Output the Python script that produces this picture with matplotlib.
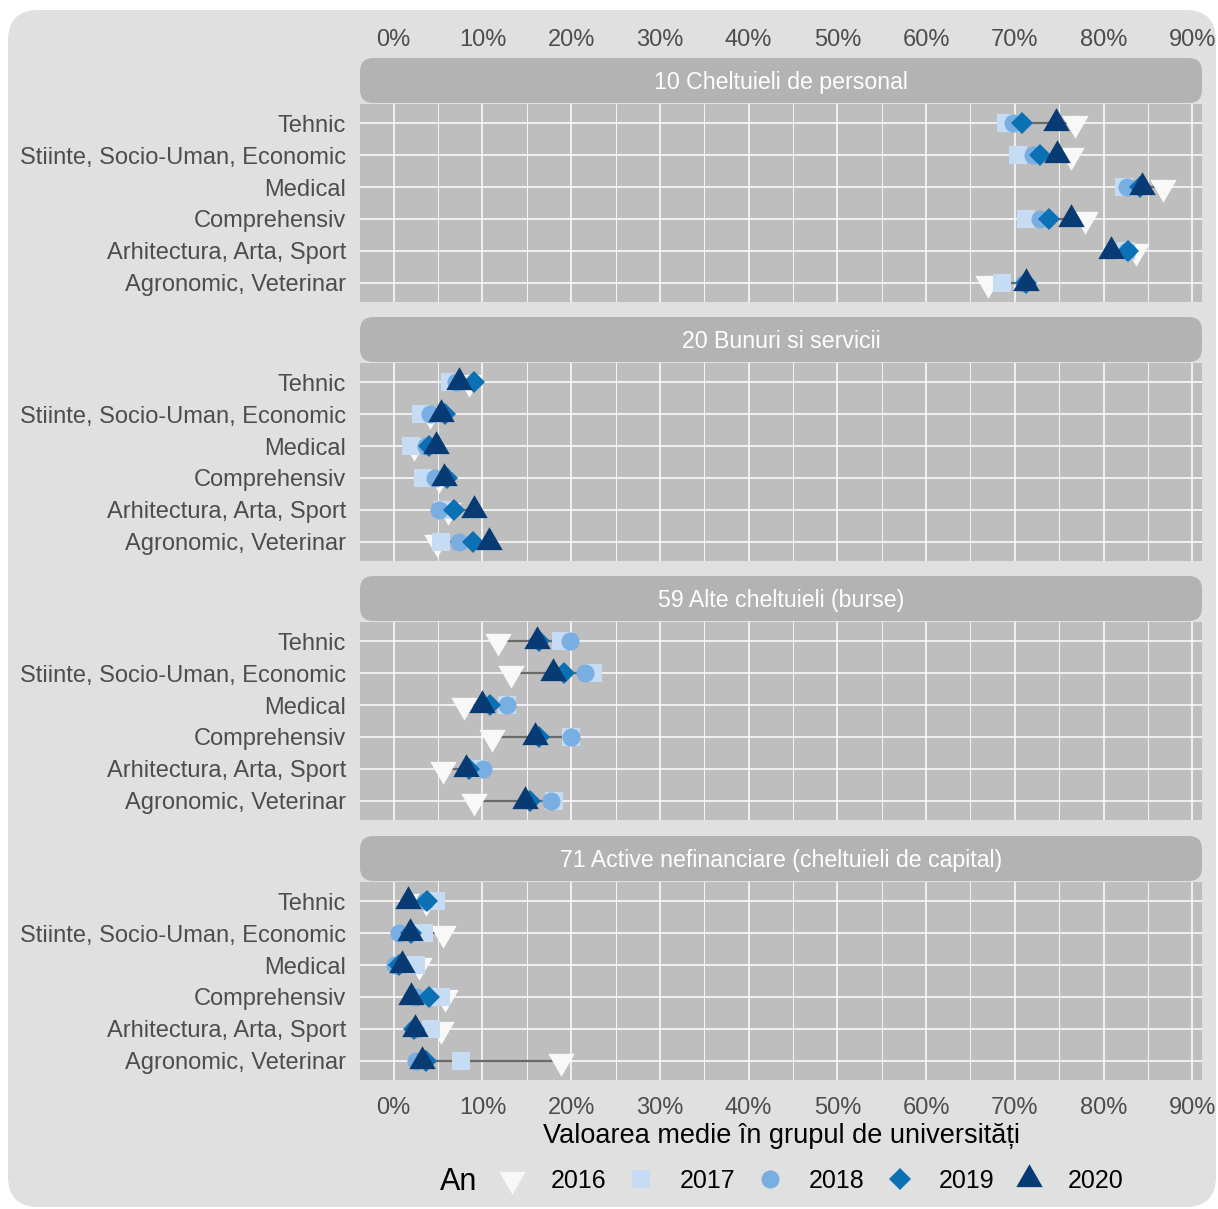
import numpy as np
import matplotlib
matplotlib.use('Agg')
import matplotlib.pyplot as plt
from matplotlib.patches import FancyBboxPatch
from matplotlib.lines import Line2D

plt.rcParams['font.family'] = ['Liberation Sans', 'DejaVu Sans']

# categories listed top to bottom
grupuri = ['Tehnic', 'Stiinte, Socio-Uman, Economic', 'Medical', 'Comprehensiv',
           'Arhitectura, Arta, Sport', 'Agronomic, Veterinar']
capitole = ['10 Cheltuieli de personal', '20 Bunuri si servicii',
            '59 Alte cheltuieli (burse)', '71 Active nefinanciare (cheltuieli de capital)']
ani = ['2016', '2017', '2018', '2019', '2020']

# values in %, one list per year, rows in the order of `grupuri`
cap10 = {
    '2016': [76.8, 76.3, 86.7, 77.9, 83.7, 67.0],
    '2017': [69.0, 70.4, 82.3, 71.3, 82.5, 68.6],
    '2018': [69.8, 72.0, 82.6, 72.8, 82.6, 71.0],
    '2019': [70.8, 72.8, 84.1, 73.9, 82.8, 71.3],
    '2020': [74.6, 74.8, 84.3, 76.3, 80.8, 71.3],
}
cap20 = {
    '2016': [8.5, 4.1, 2.3, 5.1, 6.1, 4.9],
    '2017': [6.4, 3.1, 1.9, 3.3, 5.5, 5.3],
    '2018': [7.0, 4.1, 3.6, 4.6, 5.1, 7.4],
    '2019': [9.0, 5.8, 4.0, 6.0, 6.8, 8.9],
    '2020': [7.4, 5.3, 4.8, 5.7, 9.1, 10.7],
}
cap59 = {
    '2016': [11.8, 13.2, 7.9, 11.1, 5.5, 9.0],
    '2017': [18.8, 22.5, 12.8, 20.0, 9.5, 18.1],
    '2018': [19.9, 21.6, 12.8, 20.0, 10.1, 17.7],
    '2019': [16.4, 19.2, 10.9, 16.4, 8.5, 15.4],
    '2020': [16.2, 17.9, 10.0, 15.9, 8.1, 14.8],
}
cap71 = {
    '2016': [3.6, 5.5, 2.9, 5.8, 5.3, 18.9],
    '2017': [4.8, 3.4, 2.5, 5.3, 4.2, 7.6],
    '2018': [3.5, 0.6, 0.1, 2.5, 2.3, 2.5],
    '2019': [3.8, 1.9, 0.6, 4.0, 2.3, 3.6],
    '2020': [1.6, 1.8, 0.9, 1.9, 2.4, 3.2],
}
date = [cap10, cap20, cap59, cap71]

culori = {'2016': '#f8f8f8', '2017': '#c6dcf4', '2018': '#78aee2',
          '2019': '#0b70b4', '2020': '#083b74'}
tri_sus = [(0, 1), (-0.866, -0.5), (0.866, -0.5), (0, 1)]
tri_jos = [(0, -1), (-0.866, 0.5), (0.866, 0.5), (0, -1)]
markere = {'2016': tri_jos, '2017': 's', '2018': 'o', '2019': 'D', '2020': tri_sus}
marimi = {'2016': 22, '2017': 12.5, '2018': 13, '2019': 11, '2020': 22}

W, H = 1218, 1209
fig = plt.figure(figsize=(W / 100, H / 100), dpi=100)
fig.patch.set_facecolor('white')

def fx(px):
    return px / W

def fy(py):
    return 1 - py / H

fundal = FancyBboxPatch((fx(8), fy(1207)), fx(1216) - fx(8), fy(10) - fy(1207),
                        boxstyle='round,pad=0,rounding_size=0.025',
                        transform=fig.transFigure, facecolor='#e0e0e0',
                        edgecolor='none', zorder=-10)
fig.patches.append(fundal)

x_st, x_dr = 360, 1202
panou_sus = [104, 363, 622, 882]
h_panou = 198
h_strip = 45
y_pos = np.arange(len(grupuri))[::-1] + 1

for i, (cap, val) in enumerate(zip(capitole, date)):
    top = panou_sus[i]
    ax = fig.add_axes([fx(x_st), fy(top + h_panou), fx(x_dr) - fx(x_st), h_panou / H])
    ax.set_facecolor('#bebebe')
    for s in ax.spines.values():
        s.set_visible(False)
    ax.set_xlim(-3.8, 91.1)
    ax.set_ylim(0.4, 6.6)
    ax.set_xticks(np.arange(0, 91, 10))
    ax.set_xticks(np.arange(5, 90, 10), minor=True)
    ax.set_yticks(y_pos)
    ax.set_yticklabels(grupuri)
    ax.set_axisbelow(True)
    ax.grid(which='major', color='white', lw=1.1)
    ax.grid(which='minor', axis='x', color='white', lw=0.6)
    ax.tick_params(which='both', length=0)
    ax.tick_params(axis='y', labelsize=17, labelcolor='#4d4d4d', pad=10)
    ax.tick_params(axis='x', labelsize=17, labelcolor='#4d4d4d')
    etich = [f'{v}%' for v in range(0, 91, 10)]
    if i == 0:
        ax.xaxis.tick_top()
        ax.set_xticklabels(etich)
        ax.tick_params(axis='x', pad=38)
    elif i == len(capitole) - 1:
        ax.set_xticklabels(etich)
        ax.tick_params(axis='x', pad=12)
    else:
        ax.set_xticklabels([])

    tabel = np.array([val[a] for a in ani])
    ax.hlines(y_pos, tabel.min(axis=0), tabel.max(axis=0), color='#6a6a6a', lw=1.6, zorder=2)
    for k, an in enumerate(ani):
        ax.plot(val[an], y_pos, ls='none', marker=markere[an], ms=marimi[an],
                color=culori[an], markeredgewidth=0, zorder=3 + k)

    strip = FancyBboxPatch((fx(x_st), fy(top - 1)), fx(x_dr) - fx(x_st), h_strip / H,
                           boxstyle='round,pad=0,rounding_size=0.011',
                           transform=fig.transFigure, facecolor='#b3b3b3',
                           edgecolor='none', zorder=-5)
    fig.patches.append(strip)
    fig.text(fx((x_st + x_dr) / 2), fy(top + 1 - h_strip / 2), cap, color='white',
             fontsize=16.7, ha='center', va='center')

fig.text(fx(781), fy(1136), 'Valoarea medie în grupul de universități',
         fontsize=19.5, ha='center', va='center', color='black')

handles = [Line2D([], [], ls='none', marker=markere[a], ms=marimi[a],
                  color=culori[a], markeredgewidth=0) for a in ani]
fig.text(fx(440), fy(1182), 'An', fontsize=22, va='center', ha='left')
fig.legend(handles, ani, ncol=5, loc='center', bbox_to_anchor=(fx(809), fy(1181)),
           frameon=False, fontsize=18, handlelength=1.4, handletextpad=0.85,
           columnspacing=0.7)

fig.savefig('out.png', dpi=100)
